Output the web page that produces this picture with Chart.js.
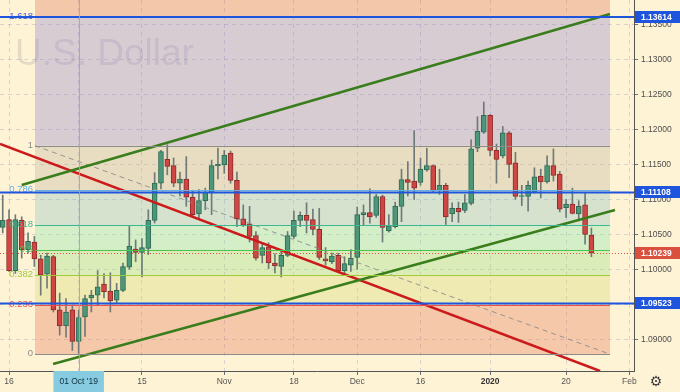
<!DOCTYPE html>
<html>
<head>
<meta charset="utf-8">
<script src="https://cdn.jsdelivr.net/npm/chart.js@4.4.1/dist/chart.umd.min.js"></script>
<style>
html,body{margin:0;padding:0;background:#FFF3D6;overflow:hidden;}
#wrap{width:680px;height:392px;position:relative;}
canvas{display:block;}
</style>
</head>
<body>
<div id="wrap"><canvas id="c" width="680" height="392"></canvas></div>
<script>
// ---------------- data ----------------
const dates = [
 'Sep 13','Sep 16','Sep 17','Sep 18','Sep 19','Sep 20','Sep 23','Sep 24','Sep 25','Sep 26','Sep 27','Sep 30',
 'Oct 1','Oct 2','Oct 3','Oct 4','Oct 7','Oct 8','Oct 9','Oct 10','Oct 11','Oct 14','Oct 15','Oct 16','Oct 17','Oct 18',
 'Oct 21','Oct 22','Oct 23','Oct 24','Oct 25','Oct 28','Oct 29','Oct 30','Oct 31',
 'Nov 1','Nov 4','Nov 5','Nov 6','Nov 7','Nov 8','Nov 11','Nov 12','Nov 13','Nov 14','Nov 15','Nov 18','Nov 19','Nov 20',
 'Nov 21','Nov 22','Nov 25','Nov 26','Nov 27','Nov 28','Nov 29',
 'Dec 2','Dec 3','Dec 4','Dec 5','Dec 6','Dec 9','Dec 10','Dec 11','Dec 12','Dec 13','Dec 16','Dec 17','Dec 18','Dec 19',
 'Dec 20','Dec 23','Dec 24','Dec 26','Dec 27','Dec 30','Dec 31',
 'Jan 2','Jan 3','Jan 6','Jan 7','Jan 8','Jan 9','Jan 10','Jan 13','Jan 14','Jan 15','Jan 16','Jan 17','Jan 20','Jan 21',
 'Jan 22','Jan 23','Jan 24'
];
const opens = [
 1.1061,1.1072,1.0999,1.1071,1.1029,1.1040,1.1016,1.0994,1.1019,1.0943,1.0920,1.0943,
 1.0898,1.0933,1.0960,1.0964,1.0980,1.0970,1.0957,1.0971,1.1004,1.1030,1.1025,1.1031,1.1071,1.1124,
 1.1158,1.1149,1.1124,1.1130,1.1104,1.1080,1.1099,1.1111,1.1149,
 1.1150,1.1167,1.1128,1.1073,1.1066,1.1049,1.1021,1.1033,1.1010,1.1005,1.1021,1.1048,1.1071,1.1078,
 1.1072,1.1058,1.1016,1.1012,1.1021,1.0999,1.1007,
 1.1018,1.1079,1.1082,1.1078,1.1105,1.1056,1.1062,1.1091,1.1129,1.1127,1.1125,1.1143,1.1149,1.1113,
 1.1121,1.1080,1.1088,1.1085,1.1095,1.1174,1.1197,
 1.1221,1.1171,1.1163,1.1196,1.1153,1.1105,1.1105,1.1111,1.1134,1.1126,1.1149,1.1137,1.1089,1.1094,
 1.1080,1.1093,1.1050
];
const highs = [
 1.1107,1.1086,1.1079,1.1076,1.1053,1.1048,1.1021,1.1024,1.1021,1.0967,1.0959,1.0950,
 1.0943,1.0964,1.0971,1.0999,1.0995,1.0996,1.0981,1.1010,1.1063,1.1043,1.1045,1.1086,1.1139,1.1171,
 1.1179,1.1160,1.1140,1.1162,1.1114,1.1115,1.1117,1.1157,1.1174,
 1.1171,1.1170,1.1140,1.1093,1.1091,1.1055,1.1038,1.1039,1.1023,1.1029,1.1055,1.1084,1.1083,1.1096,
 1.1087,1.1088,1.1032,1.1024,1.1024,1.1019,1.1029,
 1.1090,1.1093,1.1116,1.1108,1.1107,1.1079,1.1097,1.1144,1.1155,1.1199,1.1160,1.1174,1.1150,1.1144,
 1.1124,1.1096,1.1097,1.1108,1.1186,1.1219,1.1240,
 1.1222,1.1180,1.1205,1.1198,1.1168,1.1121,1.1127,1.1146,1.1144,1.1163,1.1173,1.1141,1.1101,1.1117,
 1.1099,1.1110,1.1060
];
const lows = [
 1.1053,1.0998,1.0995,1.1017,1.1024,1.1005,1.0964,1.0974,1.0940,1.0907,1.0904,1.0885,
 1.0881,1.0905,1.0940,1.0949,1.0960,1.0940,1.0953,1.0969,1.1001,1.1012,1.0990,1.1022,1.1067,1.1116,
 1.1136,1.1119,1.1106,1.1091,1.1075,1.1074,1.1086,1.1079,1.1130,
 1.1138,1.1124,1.1062,1.1062,1.1040,1.1014,1.1010,1.1002,1.0996,1.0990,1.1019,1.1045,1.1062,1.1053,
 1.1050,1.1015,1.1007,1.1009,1.0998,1.0996,1.0998,
 1.1001,1.1064,1.1067,1.1075,1.1040,1.1054,1.1060,1.1069,1.1106,1.1101,1.1121,1.1141,1.1111,1.1108,
 1.1065,1.1069,1.1068,1.1082,1.1093,1.1169,1.1195,
 1.1163,1.1124,1.1160,1.1132,1.1101,1.1092,1.1084,1.1110,1.1103,1.1124,1.1127,1.1083,1.1075,1.1080,
 1.1070,1.1037,1.1019
];
const closes = [
 1.1071,1.0999,1.1072,1.1029,1.1041,1.1016,1.0993,1.1020,1.0943,1.0920,1.0940,1.0898,
 1.0932,1.0959,1.0964,1.0976,1.0969,1.0956,1.0971,1.1005,1.1034,1.1025,1.1032,1.1071,1.1124,1.1169,
 1.1148,1.1124,1.1130,1.1104,1.1079,1.1099,1.1111,1.1149,1.1151,
 1.1164,1.1128,1.1073,1.1064,1.1048,1.1017,1.1032,1.1010,1.1006,1.1021,1.1049,1.1071,1.1078,1.1071,
 1.1058,1.1018,1.1013,1.1020,1.0999,1.1009,1.1017,
 1.1079,1.1082,1.1076,1.1105,1.1061,1.1063,1.1091,1.1129,1.1125,1.1117,1.1144,1.1149,1.1113,1.1121,
 1.1076,1.1088,1.1083,1.1096,1.1173,1.1198,1.1221,
 1.1171,1.1158,1.1196,1.1151,1.1105,1.1106,1.1121,1.1133,1.1126,1.1149,1.1135,1.1087,1.1094,1.1081,
 1.1091,1.1051,1.10239
];

// x-axis tick positions (bar index) and their texts
const tickIdx  = [1, 12, 22, 35, 46, 56, 66, 77, 89, 99];
const tickText = ['16', "01 Oct '19", '15', 'Nov', '18', 'Dec', '16', '2020', '20', 'Feb'];
const crosshairIdx = 12;

// price axis ticks
const priceTicks = [1.090, 1.095, 1.100, 1.105, 1.110, 1.115, 1.120, 1.125, 1.130, 1.135];

// fibonacci retracement
const fibLevels = [0, 0.236, 0.382, 0.5, 0.618, 0.786, 1, 1.618, 2.618];
const fibLabels = ['0', '0.236', '0.382', '0.5', '0.618', '0.786', '1', '1.618', ''];
const fibLow = 1.08797, fibHigh = 1.11776;
const fibFromIdx = 5.10, fibToIdx = 95.94;

// horizontal levels and last price
const hLevels = [1.13614, 1.11108, 1.09523];
const lastPrice = 1.10239;

// trend lines (bar index, price)
const upperGreen = [{x: 3.00, y: 1.11214}, {x: 95.94, y: 1.13657}];
const lowerGreen = [{x: 7.95, y: 1.08657}, {x: 96.73, y: 1.10857}];
const redLine    = [{x: -0.43, y: 1.11800}, {x: 94.36, y: 1.08557}];
const fibDiag    = [{x: fibFromIdx, y: fibHigh}, {x: fibToIdx, y: fibLow}];

// ---------------- styles ----------------
const FONT = '"Liberation Sans", Arial, sans-serif';
const GRID = 'rgba(150,150,185,0.35)';
const UP = '#4c967a', UP_B = '#2f6b55';
const DN = '#cf4744', DN_B = '#8e2a2a';
const WICK = '#6f7a78';
const bandColors = [null,
 'rgba(226,120,88,0.35)', 'rgba(206,217,111,0.35)', 'rgba(149,223,128,0.35)', 'rgba(132,229,174,0.35)',
 'rgba(138,194,191,0.35)', 'rgba(189,180,154,0.35)', 'rgba(144,132,206,0.35)', 'rgba(221,120,88,0.35)'];
const fibColors = ['#8c8c8c', '#ef4f4f', '#9ccc3c', '#4cc44c', '#3cb894', '#62aee8', '#8c8c8c', '#3f5ee0', '#ef4f4f'];
const HBLUE = '#1f55dc', LASTRED = '#d9503f';

const fibPrice = l => fibLow + l * (fibHigh - fibLow);
const isUp = i => closes[i] >= opens[i];

const wickData = dates.map((d, i) => ({x: i, y: [lows[i], highs[i]]}));
const bodyData = dates.map((d, i) => ({x: i, y: [opens[i], closes[i]]}));

const noPad = s => { s.paddingTop = 0; s.paddingBottom = 0; s.paddingLeft = 0; s.paddingRight = 0; };

const tvPlugin = {
  id: 'tv',
  beforeDatasetsDraw(chart) {
    const {ctx, chartArea: a, scales: {x, y}} = chart;
    ctx.save();
    ctx.beginPath(); ctx.rect(a.left, a.top, a.right - a.left, a.bottom - a.top); ctx.clip();
    // watermark
    ctx.font = '37px ' + FONT;
    ctx.fillStyle = 'rgba(90,85,120,0.16)';
    ctx.textBaseline = 'alphabetic'; ctx.textAlign = 'left';
    ctx.fillText('U.S. Dollar', 15, 65);
    // fib bands
    const xl = x.getPixelForValue(fibFromIdx), xr = x.getPixelForValue(fibToIdx);
    for (let k = 1; k < fibLevels.length; k++) {
      const y1 = y.getPixelForValue(fibPrice(fibLevels[k - 1]));
      const y2 = y.getPixelForValue(fibPrice(fibLevels[k]));
      ctx.fillStyle = bandColors[k];
      ctx.fillRect(xl, y2, xr - xl, y1 - y2);
    }
    ctx.restore();
  },
  afterDatasetsDraw(chart) {
    const {ctx, chartArea: a, scales: {x, y}} = chart;
    ctx.save();
    ctx.beginPath(); ctx.rect(a.left, a.top, a.right - a.left, a.bottom - a.top); ctx.clip();
    const xl = x.getPixelForValue(fibFromIdx), xr = x.getPixelForValue(fibToIdx);
    // fib level lines + labels
    ctx.font = '9.5px ' + FONT;
    ctx.textAlign = 'right'; ctx.textBaseline = 'middle';
    fibLevels.forEach((l, k) => {
      const py = Math.round(y.getPixelForValue(fibPrice(l))) + 0.5;
      ctx.strokeStyle = fibColors[k]; ctx.lineWidth = 1.2; ctx.setLineDash([]);
      ctx.beginPath(); ctx.moveTo(xl, py); ctx.lineTo(xr, py); ctx.stroke();
      if (fibLabels[k]) { ctx.fillStyle = fibColors[k]; ctx.fillText(fibLabels[k], xl - 2, py - 1); }
    });
    // horizontal levels
    hLevels.forEach(p => {
      const py = y.getPixelForValue(p);
      ctx.strokeStyle = HBLUE; ctx.lineWidth = 2;
      ctx.beginPath(); ctx.moveTo(a.left, py); ctx.lineTo(a.right, py); ctx.stroke();
    });
    // last price dotted
    const lp = Math.round(y.getPixelForValue(lastPrice)) + 0.5;
    ctx.strokeStyle = LASTRED; ctx.lineWidth = 1; ctx.setLineDash([1, 2]);
    ctx.beginPath(); ctx.moveTo(a.left, lp); ctx.lineTo(a.right, lp); ctx.stroke();
    // crosshair
    const cx = Math.round(x.getPixelForValue(crosshairIdx)) + 0.5;
    ctx.setLineDash([]); ctx.strokeStyle = 'rgba(110,185,215,0.9)'; ctx.lineWidth = 1;
    ctx.beginPath(); ctx.moveTo(cx, a.top); ctx.lineTo(cx, a.bottom); ctx.stroke();
    ctx.restore();
  },
  afterDraw(chart) {
    const {ctx, chartArea: a, scales: {y}} = chart;
    ctx.save();
    ctx.font = 'bold 8.5px ' + FONT;
    ctx.textAlign = 'left'; ctx.textBaseline = 'middle';
    const box = (p, col) => {
      const py = y.getPixelForValue(p);
      ctx.fillStyle = col;
      ctx.fillRect(a.right + 1, Math.round(py) - 6, 680 - a.right - 1, 12);
      ctx.fillStyle = '#ffffff';
      ctx.fillText(p.toFixed(5), a.right + 7, Math.round(py) + 0.5);
    };
    hLevels.forEach(p => box(p, HBLUE));
    box(lastPrice, LASTRED);
    // settings gear
    ctx.font = '14px "DejaVu Sans", sans-serif';
    ctx.fillStyle = '#3a3a3a'; ctx.textAlign = 'center';
    ctx.fillText('\u2699', 656, 382);
    ctx.restore();
  }
};

new Chart(document.getElementById('c'), {
  type: 'bar',
  data: {
    datasets: [
      {label: 'wick', data: wickData, backgroundColor: WICK, borderWidth: 0, barThickness: 1, grouped: false, order: 5},
      {label: 'body', data: bodyData, grouped: false, order: 4, barThickness: 5, minBarLength: 1,
       borderWidth: 1, borderSkipped: false,
       backgroundColor: c => isUp(c.dataIndex) ? UP : DN,
       borderColor: c => isUp(c.dataIndex) ? UP_B : DN_B},
      {type: 'line', label: 'fibTrend', data: fibDiag, borderColor: 'rgba(140,140,140,0.9)', borderWidth: 1,
       borderDash: [5, 4], pointRadius: 0, order: 3},
      {type: 'line', label: 'red', data: redLine, borderColor: '#cc1a1a', borderWidth: 2.5, pointRadius: 0, order: 2},
      {type: 'line', label: 'upper', data: upperGreen, borderColor: '#3a7d1c', borderWidth: 2.5, pointRadius: 0, order: 1},
      {type: 'line', label: 'lower', data: lowerGreen, borderColor: '#3a7d1c', borderWidth: 2.5, pointRadius: 0, order: 1}
    ]
  },
  options: {
    responsive: false, animation: false, devicePixelRatio: 1,
    layout: {padding: 0},
    plugins: {legend: {display: false}, tooltip: {enabled: false}},
    scales: {
      x: {
        type: 'linear', min: -0.43, max: 99.73, offset: false,
        afterBuildTicks: s => { s.ticks = tickIdx.map(v => ({value: v})); },
        afterFit: s => { s.height = 21; noPad(s); },
        grid: {offset: false, color: GRID, lineWidth: 1, drawTicks: true, tickLength: 4, tickColor: '#707070'},
        border: {display: true, color: '#555555', width: 1, dash: [4, 4]},
        ticks: {
          autoSkip: false, maxRotation: 0, minRotation: 0, padding: 2,
          callback: v => { const k = tickIdx.indexOf(v); return k >= 0 ? tickText[k] : ''; },
          color: c => (c.tick && c.tick.value === crosshairIdx) ? '#12303c' : (c.tick && c.tick.value === 77 ? '#333' : '#555'),
          font: c => ({family: FONT, size: 8.5, weight: (c.tick && c.tick.value === 77) ? 'bold' : 'normal'}),
          showLabelBackdrop: c => !!(c.tick && c.tick.value === crosshairIdx),
          backdropColor: '#86cbe0',
          backdropPadding: {left: 6, right: 6, top: 6, bottom: 6}
        }
      },
      y: {
        type: 'linear', position: 'right', min: 1.085571, max: 1.138571,
        afterBuildTicks: s => { s.ticks = priceTicks.map(v => ({value: v})); },
        afterFit: s => { s.width = 46; noPad(s); },
        grid: {color: GRID, lineWidth: 1, drawTicks: true, tickLength: 4, tickColor: '#707070'},
        border: {display: true, color: '#555555', width: 1, dash: [4, 4]},
        ticks: {padding: 3, color: '#4d4d4d', font: {family: FONT, size: 8.5}, callback: v => v.toFixed(5)}
      }
    }
  },
  plugins: [tvPlugin]
});
</script>
</body>
</html>
